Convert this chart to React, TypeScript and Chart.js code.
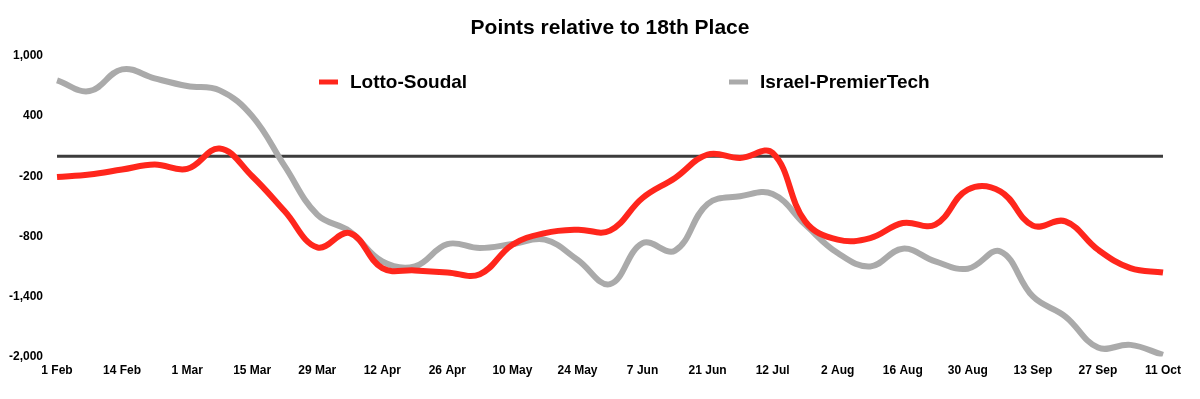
import React, { useEffect, useRef } from "react";
import { Chart, registerables } from "chart.js";

Chart.register(...registerables);

const chartTitle = "Points relative to 18th Place";

const tickLabels = [
  "1 Feb", "14 Feb", "1 Mar", "15 Mar", "29 Mar", "12 Apr", "26 Apr", "10 May", "24 May",
  "7 Jun", "21 Jun", "12 Jul", "2 Aug", "16 Aug", "30 Aug", "13 Sep", "27 Sep", "11 Oct",
];

// one point at each labelled date and one half-way between
const categories = [
  "1 Feb", "", "14 Feb", "", "1 Mar", "", "15 Mar", "", "29 Mar", "", "12 Apr", "", "26 Apr", "",
  "10 May", "", "24 May", "", "7 Jun", "", "21 Jun", "", "12 Jul", "", "2 Aug", "", "16 Aug", "",
  "30 Aug", "", "13 Sep", "", "27 Sep", "", "11 Oct",
];

const seriesNames = ["Lotto-Soudal", "Israel-PremierTech"];

const lottoSoudal = [
  -207, -183, -133, -83, -127, 77, -200, -550, -910, -767, -1117, -1140, -1160, -1177,
  -883, -767, -733, -743, -417, -217, 17, -17, 33, -650, -833, -817, -667, -683,
  -333, -350, -693, -650, -933, -1117, -1160,
];

const israelPremierTech = [
  757, 650, 867, 777, 700, 657, 400, -100, -583, -750, -1050, -1100, -877, -917,
  -877, -833, -1033, -1277, -867, -943, -477, -400, -377, -683, -967, -1100, -923, -1050,
  -1123, -950, -1400, -1600, -1910, -1883, -1983,
];

const yTicks = { min: -2000, max: 1000, step: 600 };
const referenceValue = 0; // 18th place

const RED = "rgb(255, 38, 28)";
const GRAY = "rgb(170, 170, 170)";
const FONT = '"Liberation Sans", Arial, Helvetica, sans-serif';

const referenceLinePlugin = {
  id: "referenceLine",
  beforeDatasetsDraw(chart: any) {
    const { ctx, chartArea, scales } = chart;
    const y = scales.y.getPixelForValue(referenceValue);
    ctx.save();
    ctx.strokeStyle = "#3c3c3c";
    ctx.lineWidth = 3;
    ctx.beginPath();
    ctx.moveTo(chartArea.left, y);
    ctx.lineTo(chartArea.right, y);
    ctx.stroke();
    ctx.restore();
  },
};

const titlePlugin = {
  id: "centredTitle",
  afterDraw(chart: any) {
    const { ctx, chartArea } = chart;
    ctx.save();
    ctx.font = `bold 21px ${FONT}`;
    ctx.fillStyle = "#000";
    ctx.textAlign = "center";
    ctx.textBaseline = "alphabetic";
    ctx.fillText(chartTitle, (chartArea.left + chartArea.right) / 2, 34);
    ctx.restore();
  },
};

const legendPlugin = {
  id: "customLegend",
  afterDraw(chart: any) {
    const { ctx } = chart;
    const items = [
      { label: seriesNames[0], color: RED, x: 319 },
      { label: seriesNames[1], color: GRAY, x: 729 },
    ];
    const y = 83;
    ctx.save();
    ctx.font = `bold 19px ${FONT}`;
    ctx.textBaseline = "middle";
    ctx.textAlign = "left";
    for (const it of items) {
      ctx.strokeStyle = it.color;
      ctx.lineWidth = 5;
      ctx.lineCap = "butt";
      ctx.beginPath();
      ctx.moveTo(it.x, y - 1);
      ctx.lineTo(it.x + 19, y - 1);
      ctx.stroke();
      ctx.fillStyle = "#000";
      ctx.fillText(it.label, it.x + 31, y);
    }
    ctx.restore();
  },
};

export default function App() {
  const canvasRef = useRef<HTMLCanvasElement | null>(null);

  useEffect(() => {
    if (!canvasRef.current) return;
    const chart = new Chart(canvasRef.current, {
      type: "line",
      data: {
        labels: categories,
        datasets: [
          {
            label: seriesNames[0],
            data: lottoSoudal,
            borderColor: RED,
            backgroundColor: RED,
            borderWidth: 6,
            pointRadius: 0,
            tension: 0.4,
          },
          {
            label: seriesNames[1],
            data: israelPremierTech,
            borderColor: GRAY,
            backgroundColor: GRAY,
            borderWidth: 6,
            pointRadius: 0,
            tension: 0.4,
          },
        ],
      },
      options: {
        animation: false,
        responsive: true,
        maintainAspectRatio: false,
        layout: { padding: { left: -5, right: 37, top: 56, bottom: 14 } },
        plugins: {
          legend: { display: false },
          tooltip: { enabled: false },
          title: { display: false },
        },
        scales: {
          x: {
            grid: { display: false, drawTicks: false },
            border: { display: false },
            ticks: {
              autoSkip: false,
              maxRotation: 0,
              minRotation: 0,
              padding: 7,
              color: "#000",
              font: { family: FONT, size: 12, weight: "bold" },
              callback: (_v: any, i: number) => (i % 2 === 0 ? tickLabels[i / 2] : ""),
            },
          },
          y: {
            min: yTicks.min,
            max: yTicks.max,
            grid: { display: false, drawTicks: false },
            border: { display: false },
            ticks: {
              stepSize: yTicks.step,
              padding: 14,
              color: "#000",
              font: { family: FONT, size: 12, weight: "bold" },
              callback: (v: any) => Number(v).toLocaleString("en-US"),
            },
          },
        },
      },
      plugins: [referenceLinePlugin, titlePlugin, legendPlugin],
    });
    return () => chart.destroy();
  }, []);

  return (
    <div style={{ position: "absolute", left: 0, top: 0, width: 1200, height: 399, background: "#fff" }}>
      <canvas ref={canvasRef} />
    </div>
  );
}
